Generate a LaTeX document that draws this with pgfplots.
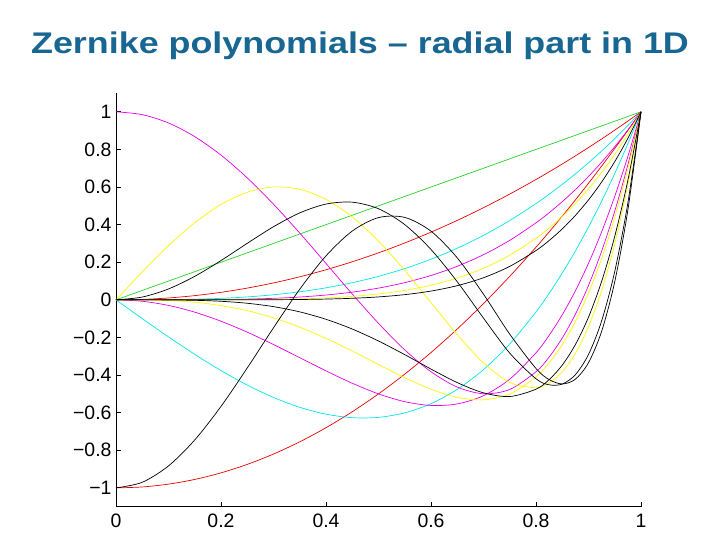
\documentclass[border=0pt]{standalone}
\usepackage{fontspec}
\setmainfont{Liberation Sans}
\usepackage{pgfplots}
\usepackage{pgfplotstable}
\pgfplotsset{compat=1.18}
\definecolor{titleblue}{RGB}{24,102,146}
\definecolor{mgreen}{RGB}{40,210,40}
\definecolor{mred}{RGB}{235,0,0}
\definecolor{mcyan}{RGB}{0,230,230}
\definecolor{mmag}{RGB}{230,0,230}
\definecolor{myel}{RGB}{250,250,0}
\pgfplotstableread{
x r1 r2 r3 r4 r5 r6 z20 z31 z40 z42 z51 z53 z60 z62 z64
0 0 0 0 0 0 0 -1 0 1 0 0 0 -1 0 0
0.05 0.05 0.0025 0.000125 0.0000063 0.0000003 0 -0.995 -0.0996 0.985 -0.0075 0.1485 -0.0005 -0.9702 0.0149 0
0.10 0.1 0.01 0.001 0.0001 0.00001 0.000001 -0.98 -0.197 0.9406 -0.0296 0.2881 -0.00395 -0.883 0.058 -0.0005
0.15 0.15 0.0225 0.003375 0.000506 0.0000759 0.0000114 -0.955 -0.2899 0.868 -0.0655 0.4103 -0.0131 -0.745 0.125 -0.0025
0.20 0.2 0.04 0.008 0.0016 0.00032 0.000064 -0.92 -0.376 0.7696 -0.1136 0.5072 -0.0304 -0.5667 0.209 -0.0076
0.25 0.25 0.0625 0.015625 0.003906 0.000977 0.000244 -0.875 -0.4531 0.6484 -0.1719 0.5723 -0.0576 -0.3623 0.3005 -0.0181
0.30 0.3 0.09 0.027 0.0081 0.00243 0.000729 -0.82 -0.519 0.5086 -0.2376 0.6003 -0.0959 -0.1484 0.3889 -0.0361
0.35 0.35 0.1225 0.042875 0.015006 0.005252 0.001838 -0.755 -0.5714 0.355 -0.3075 0.588 -0.1452 0.0566 0.4624 -0.064
0.40 0.4 0.16 0.064 0.0256 0.01024 0.004096 -0.68 -0.608 0.1936 -0.3776 0.5344 -0.2048 0.2339 0.5094 -0.1034
0.45 0.45 0.2025 0.091125 0.041006 0.018453 0.008304 -0.595 -0.6266 0.031 -0.4435 0.441 -0.2722 0.3659 0.5194 -0.1552
0.50 0.5 0.25 0.125 0.0625 0.03125 0.015625 -0.5 -0.625 -0.125 -0.5 0.3125 -0.3438 0.4375 0.4844 -0.2188
0.55 0.55 0.3025 0.166375 0.091506 0.050328 0.027681 -0.395 -0.6009 -0.266 -0.5415 0.1568 -0.4139 0.4384 0.4001 -0.2914
0.60 0.6 0.36 0.216 0.1296 0.07776 0.046656 -0.28 -0.552 -0.3824 -0.5616 -0.0144 -0.4752 0.3651 0.2678 -0.3681
0.65 0.65 0.4225 0.274625 0.178506 0.116029 0.075419 -0.155 -0.4761 -0.464 -0.5535 -0.1852 -0.5184 0.2232 0.0962 -0.44
0.70 0.7 0.49 0.343 0.2401 0.16807 0.117649 -0.02 -0.371 -0.4994 -0.5096 -0.3353 -0.5317 0.03 -0.0973 -0.4946
0.75 0.75 0.5625 0.421875 0.316406 0.237305 0.177979 0.125 -0.2344 -0.4766 -0.4219 -0.4395 -0.501 -0.1826 -0.2834 -0.5142
0.80 0.8 0.64 0.512 0.4096 0.32768 0.262144 0.28 -0.064 -0.3824 -0.2816 -0.4672 -0.4096 -0.3651 -0.4198 -0.4751
0.825 0.825 0.680625 0.561516 0.463251 0.382182 0.3153 0.36125 0.0345 -0.3042 -0.1889 -0.4414 -0.3352 -0.424 -0.4518 -0.4245
0.85 0.85 0.7225 0.614125 0.522006 0.443705 0.37715 0.445 0.1424 -0.203 -0.0795 -0.3824 -0.238 -0.4472 -0.4479 -0.3471
0.875 0.875 0.765625 0.669922 0.586182 0.512909 0.448795 0.53125 0.2598 -0.0767 0.0479 -0.285 -0.1151 -0.4221 -0.398 -0.2381
0.90 0.9 0.81 0.729 0.6561 0.59049 0.531441 0.62 0.387 0.0766 0.1944 -0.1431 0.0365 -0.3342 -0.2904 -0.0919
0.925 0.925 0.855625 0.791453 0.732094 0.677187 0.626398 0.71125 0.5244 0.2588 0.3615 0.0494 0.2201 -0.1674 -0.1122 0.0979
0.95 0.95 0.9025 0.857375 0.814506 0.773781 0.735092 0.805 0.6721 0.472 0.5505 0.2993 0.4394 0.0967 0.1513 0.338
0.975 0.975 0.950625 0.926859 0.903688 0.881096 0.859069 0.90125 0.8306 0.7184 0.7629 0.6137 0.698 0.4782 0.516 0.636
1 1 1 1 1 1 1 1 1 1 1 1 1 1 1 1
}\zern
\begin{document}
\begin{tikzpicture}
\useasboundingbox (0,0) rectangle (720bp,540bp);
\node[anchor=base, font=\fontsize{30}{34}\selectfont\bfseries, text=titleblue, inner sep=0pt] at (360bp,486.7bp) {\scalebox{1.2}[1]{Zernike polynomials – radial part in 1D}};
\begin{axis}[
  at={(116bp,33.3bp)}, anchor=south west,
  scale only axis, width=525bp, height=413.7bp,
  xmin=0, xmax=1, ymin=-1.1, ymax=1.1,
  axis x line*=bottom, axis y line*=left,
  axis line style={black, line width=0.8bp},
  tick style={black, line width=0.8bp},
  major tick length=4.5bp,
  tick align=inside,
  xtick={0,0.2,0.4,0.6,0.8,1},
  xticklabels={0,0.2,0.4,0.6,0.8,1},
  ytick={-1,-0.8,-0.6,-0.4,-0.2,0,0.2,0.4,0.6,0.8,1},
  yticklabels={−1,−0.8,−0.6,−0.4,−0.2,0,0.2,0.4,0.6,0.8,1},
  tick label style={font=\fontsize{19.5}{22}\selectfont},
  yticklabel style={xshift=-1bp},
  xticklabel style={yshift=-4bp},
  every axis plot/.append style={line width=0.7bp, smooth},
  clip=false,
]
\addplot[mgreen] table[x=x,y=r1]{\zern};
\addplot[mred] table[x=x,y=z20]{\zern};
\addplot[mred] table[x=x,y=r2]{\zern};
\addplot[mcyan] table[x=x,y=z31]{\zern};
\addplot[mcyan] table[x=x,y=r3]{\zern};
\addplot[mmag] table[x=x,y=z40]{\zern};
\addplot[mmag] table[x=x,y=z42]{\zern};
\addplot[mmag] table[x=x,y=r4]{\zern};
\addplot[myel] table[x=x,y=z51]{\zern};
\addplot[myel] table[x=x,y=z53]{\zern};
\addplot[myel] table[x=x,y=r5]{\zern};
\addplot[black] table[x=x,y=z60]{\zern};
\addplot[black] table[x=x,y=z62]{\zern};
\addplot[black] table[x=x,y=z64]{\zern};
\addplot[black] table[x=x,y=r6]{\zern};
\end{axis}
\end{tikzpicture}
\end{document}
